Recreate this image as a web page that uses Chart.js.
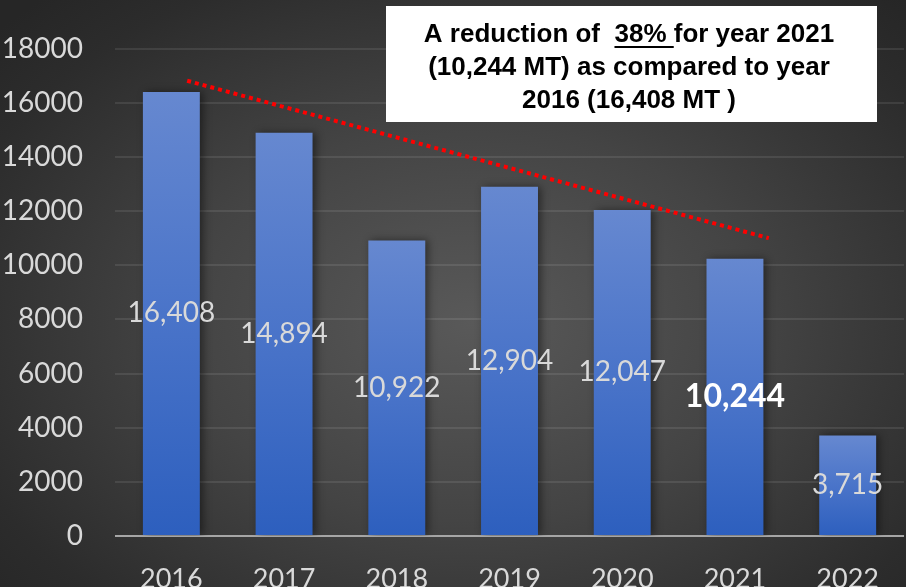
<!DOCTYPE html>
<html>
<head>
<meta charset="utf-8">
<script src="https://cdn.jsdelivr.net/npm/chart.js@4/dist/chart.umd.min.js"></script>
<style>
  html, body { margin: 0; padding: 0; }
  body { width: 906px; height: 587px; overflow: hidden;
    background: radial-gradient(ellipse 70% 75% at 52% 55%, #595959 0%, #444444 45%, #2c2c2c 85%, #262626 100%); }
  canvas { display: block; }
</style>
</head>
<body>
<canvas id="c" width="906" height="587"></canvas>
<script>
// ---- data ----
const categories = ['2016', '2017', '2018', '2019', '2020', '2021', '2022'];
const values = [16408, 14894, 10922, 12904, 12047, 10244, 3715];
const valueLabels = ['16,408', '14,894', '10,922', '12,904', '12,047', '10,244', '3,715'];
const yTicks = [0, 2000, 4000, 6000, 8000, 10000, 12000, 14000, 16000, 18000];
const trendX = [0.14, 5.3];
const trendY = [16820, 11005];
const noteLines = ['A reduction of  38% for year 2021', '(10,244 MT) as compared to year', '2016 (16,408 MT )'];
const highlightIndex = 5;

function barGradient(ctx) {
  const chart = ctx.chart;
  if (!chart.chartArea || ctx.type !== 'data') return '#4a74c9';
  const ys = chart.scales.y;
  const top = ys.getPixelForValue(ctx.raw);
  const base = ys.getPixelForValue(0);
  const g = chart.ctx.createLinearGradient(0, top, 0, base);
  g.addColorStop(0, '#6688d0');
  g.addColorStop(0.5, '#4a74c9');
  g.addColorStop(1, '#2d5fbe');
  return g;
}

const shadowPlugin = {
  id: 'barShadow',
  beforeDatasetDraw(chart, args) {
    if (args.index !== 0) return;
    const c = chart.ctx;
    c.save();
    c.shadowColor = 'rgba(0,0,0,0.45)';
    c.shadowBlur = 8;
    c.shadowOffsetX = 3;
    c.shadowOffsetY = 0;
  },
  afterDatasetDraw(chart, args) {
    if (args.index !== 0) return;
    chart.ctx.restore();
  }
};

const labelPlugin = {
  id: 'valueLabels',
  afterDatasetsDraw(chart) {
    const meta = chart.getDatasetMeta(0);
    const c = chart.ctx;
    c.save();
    c.textAlign = 'center';
    c.textBaseline = 'middle';
    meta.data.forEach((bar, i) => {
      const y = (bar.y + bar.base) / 2;
      if (i === highlightIndex) {
        c.font = 'bold 32px Lato';
        c.fillStyle = '#ffffff';
      } else {
        c.font = '28px Lato';
        c.fillStyle = '#d9d9d9';
      }
      c.fillText(valueLabels[i], bar.x, y);
    });
    c.restore();
  }
};

const notePlugin = {
  id: 'noteBox',
  afterDraw(chart) {
    const c = chart.ctx;
    c.save();
    c.fillStyle = '#ffffff';
    c.fillRect(386, 6, 491, 116);
    c.fillStyle = '#000000';
    c.font = 'bold 26px "Liberation Sans", Arial, sans-serif';
    c.textAlign = 'center';
    c.textBaseline = 'alphabetic';
    const cx = 629;
    const ys = [42, 75, 108];
    noteLines.forEach((t, i) => c.fillText(t, cx, ys[i]));
    // underline "38% "
    const full = noteLines[0];
    const pre = full.slice(0, full.indexOf('38%'));
    const wFull = c.measureText(full).width;
    const wPre = c.measureText(pre).width;
    const wU = c.measureText('38% ').width;
    const x0 = cx - wFull / 2 + wPre;
    c.fillRect(x0, 46, wU, 2);
    c.restore();
  }
};

new Chart(document.getElementById('c'), {
  data: {
    labels: categories,
    datasets: [
      {
        type: 'bar',
        data: values,
        backgroundColor: barGradient,
        borderWidth: 0,
        grouped: false,
        categoryPercentage: 1.0,
        barPercentage: 0.505,
        xAxisID: 'x',
        yAxisID: 'y',
        order: 2
      },
      {
        type: 'line',
        data: trendX.map((x, i) => ({ x: x, y: trendY[i] })),
        borderColor: '#ff0000',
        borderWidth: 4,
        borderDash: [4, 4],
        pointRadius: 0,
        fill: false,
        xAxisID: 'x2',
        yAxisID: 'y',
        order: 1
      }
    ]
  },
  options: {
    responsive: false,
    devicePixelRatio: 1,
    animation: false,
    layout: { padding: { top: 47, right: 0, left: 0, bottom: 0 } },
    plugins: { legend: { display: false }, tooltip: { enabled: false } },
    scales: {
      x: {
        type: 'category',
        offset: true,
        grid: { display: false, drawTicks: false },
        border: { display: false },
        ticks: { color: '#d9d9d9', font: { family: 'Lato', size: 27 }, padding: 27, maxRotation: 0 },
        afterFit(s) { s.height = 51; }
      },
      x2: {
        type: 'linear',
        display: false,
        min: -0.5,
        max: 6.5
      },
      y: {
        min: 0,
        max: 18000,
        afterBuildTicks(s) { s.ticks = yTicks.map(v => ({ value: v })); },
        grid: {
          drawTicks: false,
          lineWidth: 2,
          color: (ctx) => ctx.tick && ctx.tick.value === 0 ? '#a6a6a6' : 'rgba(255,255,255,0.09)'
        },
        border: { display: false },
        ticks: { color: '#d9d9d9', font: { family: 'Lato', size: 28 }, padding: 32,
          callback: (v) => String(v) },
        afterFit(s) { s.width = 115; }
      }
    }
  },
  plugins: [shadowPlugin, labelPlugin, notePlugin]
});
</script>
</body>
</html>
